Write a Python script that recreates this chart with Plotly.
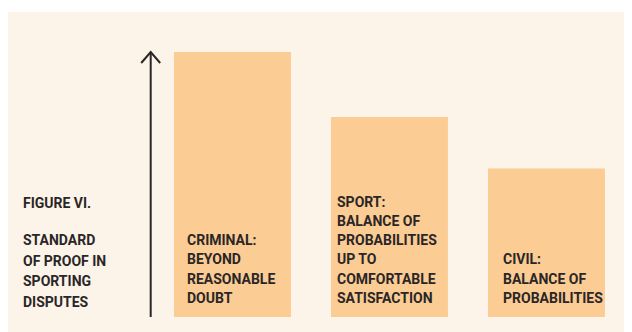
import plotly.graph_objects as go

# standards of proof, ordered from strictest to least strict
categories = ["CRIMINAL", "SPORT", "CIVIL"]
labels = [
    ["CRIMINAL:", "BEYOND", "REASONABLE", "DOUBT"],
    ["SPORT:", "BALANCE OF", "PROBABILITIES", "UP TO", "COMFORTABLE", "SATISFACTION"],
    ["CIVIL:", "BALANCE OF", "PROBABILITIES"],
]
strictness = [100, 75.5, 56]

figure_title = "FIGURE VI."
figure_caption = ["STANDARD", "OF PROOF IN", "SPORTING", "DISPUTES"]

BAR_COLOR = "#fbcc93"
BG_COLOR = "#fdf4e9"
INK = "#2a2627"
FONT = "Roboto, Liberation Sans, sans-serif"
FONT_SIZE = 14
BAR_W = 0.745
LABEL_INSET = [13, 6, 15]


def text_line(fig, txt, x, xref, xshift, yshift):
    fig.add_annotation(
        x=x, y=0, xref=xref, yref="y",
        text=f"<b>{txt}</b>",
        showarrow=False, xanchor="left", yanchor="middle", align="left",
        xshift=xshift, yshift=yshift,
        font=dict(family=FONT, size=FONT_SIZE, color=INK),
    )


x_pos = list(range(len(categories)))

fig = go.Figure(
    go.Bar(
        x=x_pos,
        y=strictness,
        width=BAR_W,
        marker=dict(color=BAR_COLOR, line=dict(width=0)),
        hoverinfo="skip",
    )
)

# bar labels, stacked up from the bottom of each bar
for i, lines in enumerate(labels):
    n = len(lines)
    for j, ln in enumerate(lines):
        text_line(fig, ln, x_pos[i] - BAR_W / 2, "x",
                  LABEL_INSET[i] - 2, 19 + (n - 1 - j) * 19.3)

# caption at the left
n = len(figure_caption)
for j, ln in enumerate(figure_caption):
    text_line(fig, ln, 0, "paper", 13, 15 + (n - 1 - j) * 20.7)
text_line(fig, figure_title, 0, "paper", 13, 114.5)

# upward arrow left of the bars
arrow_x = -0.521
top = max(strictness)
fig.add_shape(
    type="line", x0=arrow_x, x1=arrow_x, y0=0, y1=top,
    line=dict(color=INK, width=2),
)
fig.add_shape(
    type="path",
    xsizemode="pixel", ysizemode="pixel",
    xanchor=arrow_x, yanchor=top,
    path="M -9.5,-11 L 0,0 L 9.5,-11",
    line=dict(color=INK, width=2),
)

fig.update_layout(
    width=624,
    height=324,
    margin=dict(l=0, r=0, t=4, b=0),
    paper_bgcolor="white",
    plot_bgcolor=BG_COLOR,
    showlegend=False,
    xaxis=dict(range=[-1.430, 2.545], visible=False, fixedrange=True),
    yaxis=dict(range=[-5.66, 115.1], visible=False, fixedrange=True),
)

fig.write_html("out.html")
